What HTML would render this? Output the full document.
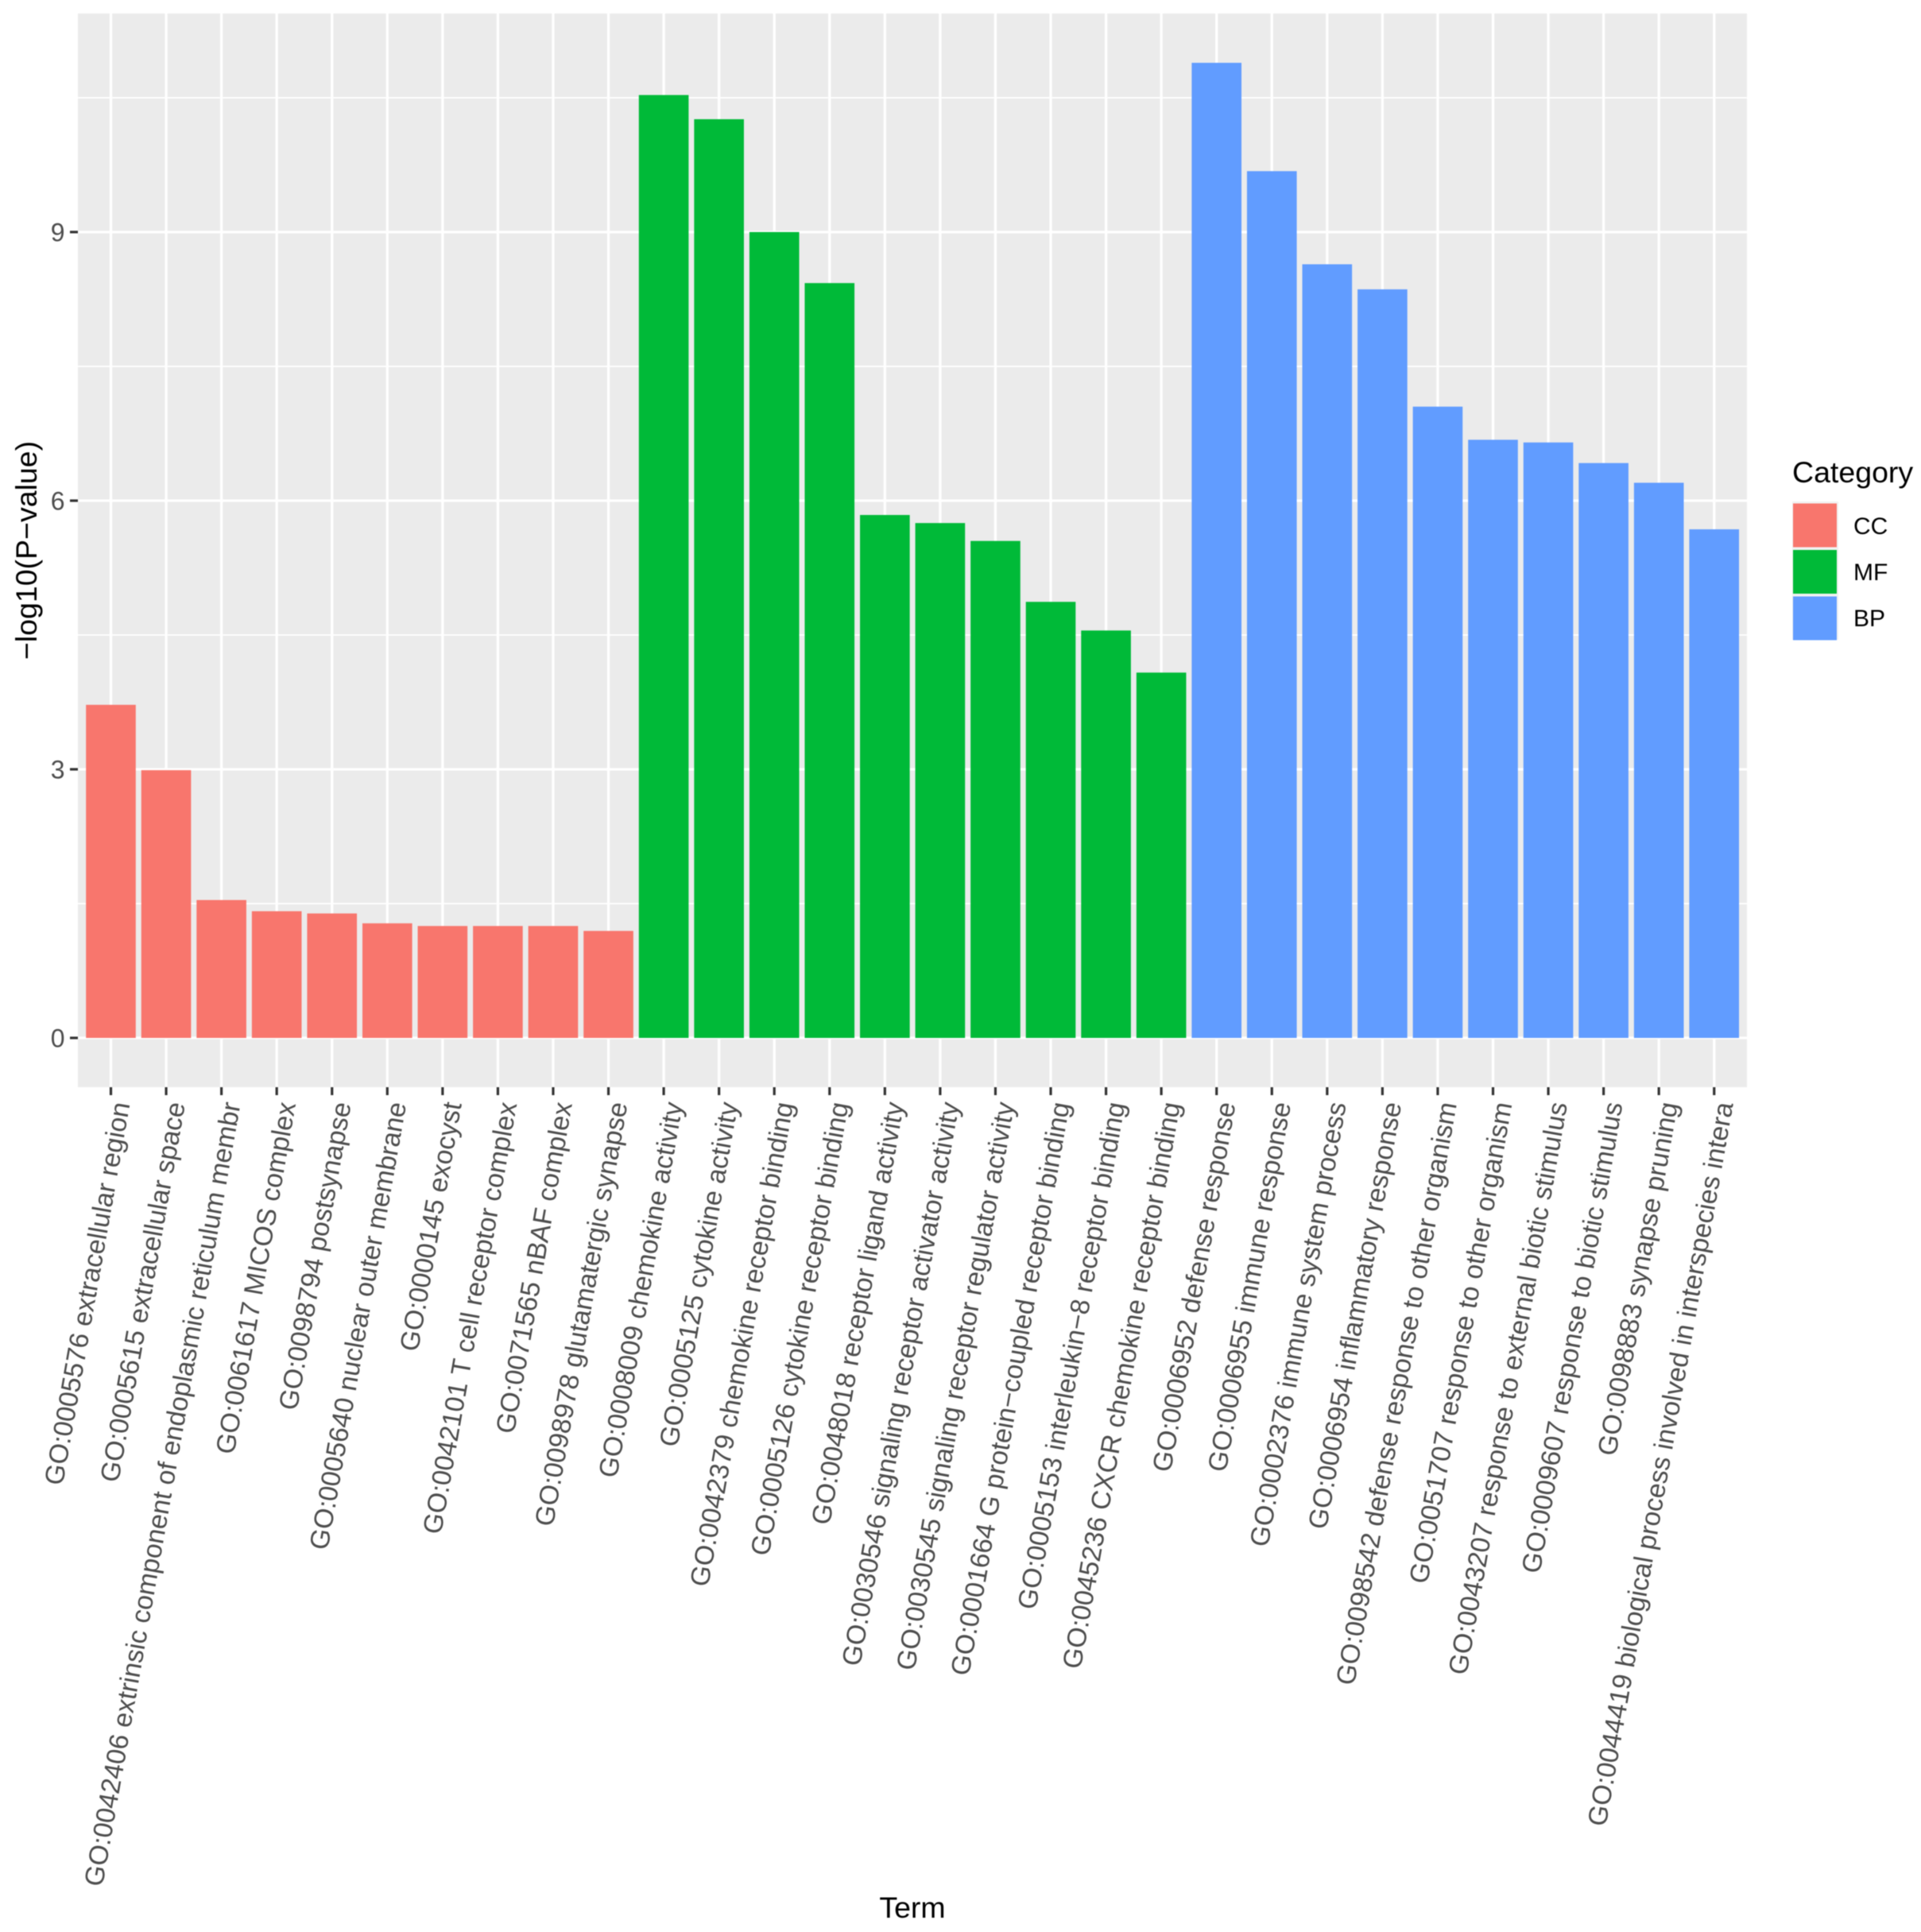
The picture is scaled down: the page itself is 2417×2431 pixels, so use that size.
<!DOCTYPE html>
<html lang="en">
<head>
<meta charset="utf-8">
<title>GO enrichment bar chart</title>
<style>
html,body{margin:0;padding:0;background:#fff;}
svg{display:block;font-family:"Liberation Sans",Arial,sans-serif;filter:blur(0.6px);}
</style>
</head>
<body>
<svg id="chart" xmlns="http://www.w3.org/2000/svg" width="2417" height="2431" viewBox="0 0 2417 2431">
  <rect x="0" y="0" width="2417" height="2431" fill="#ffffff"/>
  <rect x="98" y="17" width="2100" height="1351" fill="#ebebeb"/>
  <g id="grid"></g>
  <g id="bars"></g>
  <g id="y-axis"></g>
  <g id="x-axis"></g>
  <text transform="translate(46,692.5) rotate(-90)" text-anchor="middle" font-size="37.5" fill="#000">−log10(P−value)</text>
  <text x="1148" y="2413" text-anchor="middle" font-size="37.5" fill="#000">Term</text>
  <g>
    <text x="2255" y="607" font-size="37.5" fill="#000">Category</text>
    <rect x="2255" y="631" width="58" height="58" fill="#f2f2f2"/>
    <rect x="2255" y="689" width="58" height="58" fill="#f2f2f2"/>
    <rect x="2255" y="747" width="58" height="58" fill="#f2f2f2"/>
    <rect x="2256" y="633.5" width="55" height="55" fill="#f8766d"/>
    <rect x="2256" y="692" width="55" height="55" fill="#00ba38"/>
    <rect x="2256" y="750.5" width="55" height="55" fill="#619cff"/>
    <text x="2332" y="672" font-size="30" fill="#000">CC</text>
    <text x="2332" y="730" font-size="30" fill="#000">MF</text>
    <text x="2332" y="788" font-size="30" fill="#000">BP</text>
  </g>
</svg>
<script>
const categories = [
  "GO:0005576 extracellular region",
  "GO:0005615 extracellular space",
  "GO:0042406 extrinsic component of endoplasmic reticulum membr",
  "GO:0061617 MICOS complex",
  "GO:0098794 postsynapse",
  "GO:0005640 nuclear outer membrane",
  "GO:0000145 exocyst",
  "GO:0042101 T cell receptor complex",
  "GO:0071565 nBAF complex",
  "GO:0098978 glutamatergic synapse",
  "GO:0008009 chemokine activity",
  "GO:0005125 cytokine activity",
  "GO:0042379 chemokine receptor binding",
  "GO:0005126 cytokine receptor binding",
  "GO:0048018 receptor ligand activity",
  "GO:0030546 signaling receptor activator activity",
  "GO:0030545 signaling receptor regulator activity",
  "GO:0001664 G protein−coupled receptor binding",
  "GO:0005153 interleukin−8 receptor binding",
  "GO:0045236 CXCR chemokine receptor binding",
  "GO:0006952 defense response",
  "GO:0006955 immune response",
  "GO:0002376 immune system process",
  "GO:0006954 inflammatory response",
  "GO:0098542 defense response to other organism",
  "GO:0051707 response to other organism",
  "GO:0043207 response to external biotic stimulus",
  "GO:0009607 response to biotic stimulus",
  "GO:0098883 synapse pruning",
  "GO:0044419 biological process involved in interspecies intera"
];
const pValues = [
  3.72, 2.99, 1.54, 1.415, 1.39, 1.28, 1.25, 1.25, 1.25, 1.195,
  10.53, 10.26, 9.0, 8.43, 5.84, 5.75, 5.55, 4.87, 4.55, 4.08,
  10.89, 9.68, 8.64, 8.36, 7.05, 6.68, 6.65, 6.42, 6.20, 5.68
];
const groups = [
  "CC","CC","CC","CC","CC","CC","CC","CC","CC","CC",
  "MF","MF","MF","MF","MF","MF","MF","MF","MF","MF",
  "BP","BP","BP","BP","BP","BP","BP","BP","BP","BP"
];
const yTickLabels = [0, 3, 6, 9];
const yMinorTicks = [1.5, 4.5, 7.5, 10.5];

const NS = "http://www.w3.org/2000/svg";
const groupColor = {CC: "#f8766d", MF: "#00ba38", BP: "#619cff"};
const panelLeft = 98, panelRight = 2198, panelTop = 17, panelBottom = 1368;
const y0Pixel = 1306, yUnit = 112.67;
const x0Pixel = 139.5, xStep = 69.56;
function xScale(i) { return x0Pixel + i * xStep; }
function yScale(v) { return y0Pixel - v * yUnit; }
function make(tag, attrs) {
  const el = document.createElementNS(NS, tag);
  for (const k in attrs) el.setAttribute(k, attrs[k]);
  return el;
}
const gridG = document.getElementById("grid");
const barsG = document.getElementById("bars");
const yG = document.getElementById("y-axis");
const xG = document.getElementById("x-axis");

yMinorTicks.forEach(function (v) {
  const line = make("line", {x1: panelLeft, x2: panelRight, y1: yScale(v), y2: yScale(v), stroke: "#fff", "stroke-width": 1.7});
  
  
  gridG.appendChild(line);
});
yTickLabels.forEach(function (v) {
  const line = make("line", {x1: panelLeft, x2: panelRight, y1: yScale(v), y2: yScale(v), stroke: "#fff", "stroke-width": 3.3});
  
  
  gridG.appendChild(line);
  const tick = make("line", {x1: 88, x2: panelLeft, y1: yScale(v), y2: yScale(v), stroke: "#333", "stroke-width": 3.2});
  
  
  yG.appendChild(tick);
  const label = make("text", {x: 81.5, y: yScale(v) + 11.5, "text-anchor": "end", "font-size": 32, fill: "#4d4d4d"});
  
  
  label.textContent = String(v);
  yG.appendChild(label);
});
categories.forEach(function (name, i) {
  const cx = xScale(i);
  const grid = make("line", {x1: cx, x2: cx, y1: panelTop, y2: panelBottom, stroke: "#fff", "stroke-width": 3.3});
  
  
  gridG.appendChild(grid);
  const w = xStep * 0.9;
  const bar = make("rect", {x: cx - w / 2, y: yScale(pValues[i]), width: w, height: y0Pixel - yScale(pValues[i]), fill: groupColor[groups[i]]});
  
  
  barsG.appendChild(bar);
  const tick = make("line", {x1: cx, x2: cx, y1: panelBottom, y2: panelBottom + 10, stroke: "#333", "stroke-width": 3.2});
  
  
  xG.appendChild(tick);
  const label = make("text", {transform: "translate(" + (cx + 24) + ",1389) rotate(-80)", "text-anchor": "end", "font-size": 33.8, fill: "#4d4d4d"});
  
  
  label.textContent = name;
  xG.appendChild(label);
});
</script>
</body>
</html>
